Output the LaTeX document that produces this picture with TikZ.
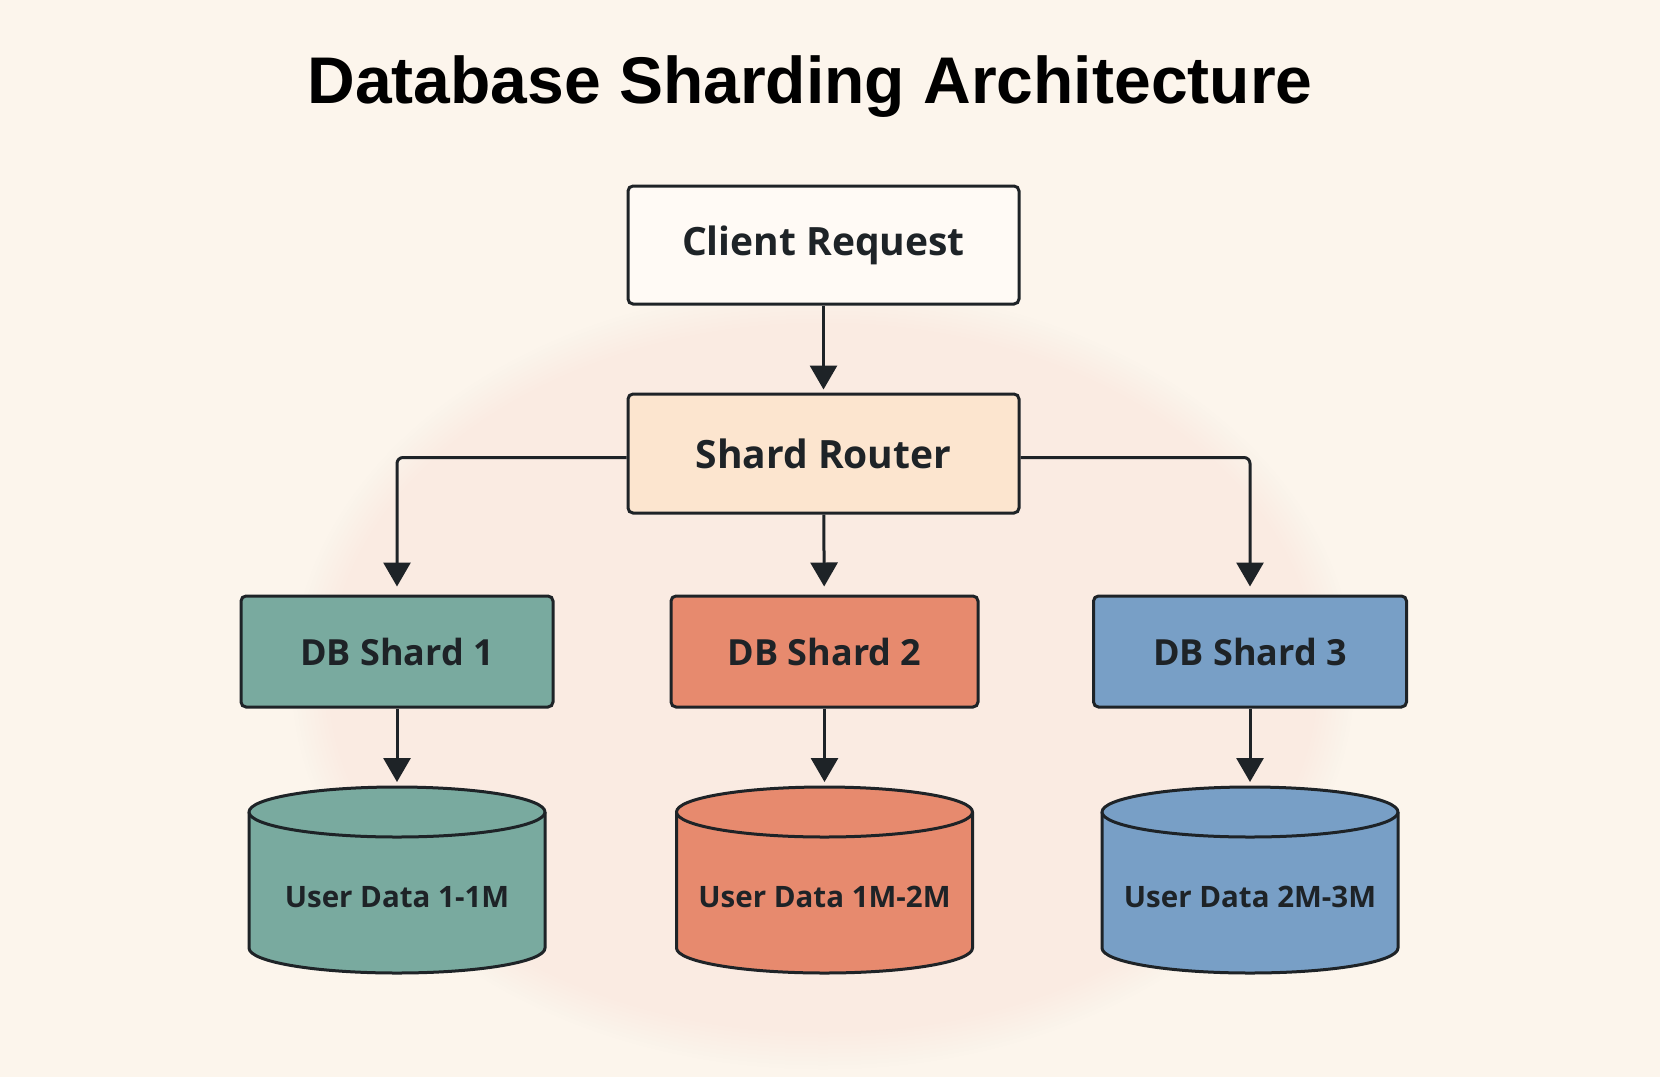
\documentclass[tikz,border=0pt]{standalone}
\usepackage{fontspec}
\setmainfont{Liberation Sans}
\newfontfamily\nodefont{Open Sans}
\usetikzlibrary{arrows.meta}
\definecolor{bg}{HTML}{FCF5EC}
\definecolor{glow}{HTML}{FAEADA}
\definecolor{ink}{HTML}{1E2327}
\definecolor{clientfill}{HTML}{FFFAF5}
\definecolor{routerfill}{HTML}{FCE5CF}
\definecolor{tealfill}{HTML}{79AA9F}
\definecolor{salmonfill}{HTML}{E78A6E}
\definecolor{steelfill}{HTML}{789FC6}
\newcommand{\dbcyl}[4]{%
  \begin{scope}[shift={(#1,812)}]
    \filldraw[cylline, fill=#2] (-148,0) -- (-148,136)
      arc[start angle=180, end angle=0, x radius=148, y radius=25] -- (148,0);
    \filldraw[cylline, fill=#2] (0,0) ellipse[x radius=148, y radius=25];
  \end{scope}
  \coordinate (#3top) at (#1,787);
  \node[cyllabel] (#3) at (#1,897) {#4};
}
\begin{document}
\begin{tikzpicture}[x=1pt,y=-1pt,
  box/.style={draw=ink, line width=3pt, rounded corners=5pt, align=center,
    text=ink, inner sep=0pt},
  bigtext/.style={font=\nodefont\bfseries\fontsize{39}{46}\selectfont},
  shardtext/.style={font=\nodefont\bfseries\fontsize{36}{42}\selectfont},
  cylline/.style={draw=ink, line width=3pt, line join=round},
  cyllabel/.style={text=ink, font=\nodefont\bfseries\fontsize{29.5}{36}\selectfont, inner sep=0pt},
  arr/.style={draw=ink, line width=3pt, -{Triangle[width=27pt,length=24pt]}},
]
\fill[bg] (0,0) rectangle (1660,1077);
\useasboundingbox (0,0) rectangle (1660,1077);
\foreach \k in {0,...,9}
  \fill[glow, opacity=0.035] (823,678) ellipse[x radius={531-\k*4}, y radius={391-\k*4}];

\node[font=\bfseries\fontsize{66}{72}\selectfont, text=black, anchor=base] (title) at (810,103) {Database Sharding Architecture};

\node[box, bigtext, fill=clientfill, minimum width=391, minimum height=118] (client) at (823.5,245) {Client Request};
\node[box, bigtext, fill=routerfill, minimum width=391, minimum height=119] (router) at (823.5,453.5) {Shard Router};

\node[box, shardtext, fill=tealfill, minimum width=312, minimum height=111] (s1) at (397,651.5) {DB Shard 1};
\node[box, shardtext, fill=salmonfill, minimum width=307, minimum height=111] (s2) at (824.5,651.5) {DB Shard 2};
\node[box, shardtext, fill=steelfill, minimum width=313, minimum height=111] (s3) at (1250,651.5) {DB Shard 3};

\dbcyl{397}{tealfill}{c1}{User Data 1-1M}
\dbcyl{824.5}{salmonfill}{c2}{User Data 1M-2M}
\dbcyl{1250}{steelfill}{c3}{User Data 2M-3M}

\draw[arr, shorten >=3pt] (client) -- (router);
\draw[arr, rounded corners=6pt, shorten >=8pt] ([yshift=-4pt]router.west) -| (s1.north);
\draw[arr, shorten >=8pt] (router) -- (s2);
\draw[arr, rounded corners=6pt, shorten >=8pt] ([yshift=-4pt]router.east) -| (s3.north);
\draw[arr, shorten >=5pt] (s1) -- (c1top);
\draw[arr, shorten >=5pt] (s2) -- (c2top);
\draw[arr, shorten >=5pt] (s3) -- (c3top);
\end{tikzpicture}
\end{document}
